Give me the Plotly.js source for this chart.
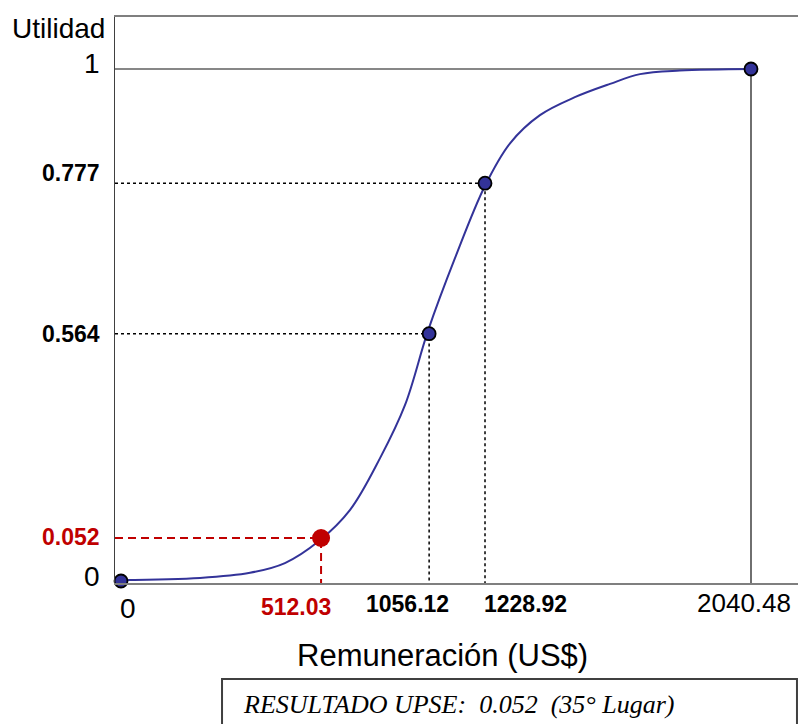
<!DOCTYPE html>
<html><head><meta charset="utf-8">
<script src="https://cdn.plot.ly/plotly-3.0.1.min.js"></script>
<style>html,body{margin:0;padding:0;background:#fff}#chart{width:798px;height:724px}</style>
</head><body><div id="chart"></div>
<script>
// Values shown on the chart
const remuneracion = [0, 512.03, 1056.12, 1228.92, 2040.48];
const utilidad = [0, 0.052, 0.564, 0.777, 1];
const remuneracionLabels = ['0', '512.03', '1056.12', '1228.92', '2040.48'];
const utilidadLabels = ['0', '0.052', '0.564', '0.777', '1'];
// Where each point sits on the (schematic, not-to-scale) drawn axes
const posX = [0, 648, 998, 1179, 2040.48];
const posY = [0, 0.084, 0.483, 0.777, 1];
// Utility curve in the same drawn-axis units
const curvaX = [0, 256, 418, 531, 641, 742, 839, 920, 994, 1082, 1179, 1260, 1357, 1470, 1584, 1681, 1810, 2047];
const curvaY = [0.002, 0.006, 0.016, 0.035, 0.078, 0.139, 0.240, 0.344, 0.488, 0.631, 0.772, 0.855, 0.910, 0.945, 0.971, 0.990, 0.997, 1.0];
const upse = 1; // index of the highlighted result
const resultado = 'RESULTADO UPSE:  0.052  (35° Lugar)';

const xRange = [-19.4, 2192.7];
const yRange = [-0.0039, 1.1016];
const RED = '#C00000', BLUE = '#333399';
const SANS = 'Liberation Sans, Arial, sans-serif';

const traces = [];
// guide lines
for (let i = 1; i < posX.length; i++) {
  let line;
  if (i === upse) line = {color: RED, width: 2, dash: '8px,5px'};
  else if (i === posX.length - 1) line = {color: '#111', width: 1.2};
  else line = {color: '#000', width: 1.5, dash: 'dot'};
  traces.push({x: [xRange[0], posX[i], posX[i]], y: [posY[i], posY[i], yRange[0]],
    mode: 'lines', line: line, hoverinfo: 'skip'});
}
// curve
traces.push({x: curvaX, y: curvaY, mode: 'lines',
  line: {color: BLUE, width: 2, shape: 'spline', smoothing: 1}});
// blue points
const bx = [], by = [];
posX.forEach((v, i) => { if (i !== upse) { bx.push(v); by.push(posY[i]); } });
traces.push({x: bx, y: by, mode: 'markers', cliponaxis: false,
  marker: {color: BLUE, size: 13, line: {color: '#000', width: 1.8}}});
// highlighted point
traces.push({x: [posX[upse]], y: [posY[upse]], mode: 'markers', cliponaxis: false,
  marker: {color: RED, size: 18, line: {width: 0}}});

function styleFor(i, regSize) {
  if (i === 0 || i === posX.length - 1) return {family: SANS, size: regSize, color: '#000'};
  return {family: SANS, size: 23, color: i === upse ? RED : '#000', weight: 'bold'};
}
const annotations = [];
const yShift = [5, 1, 0, 10, 6];
utilidadLabels.forEach((t, i) => annotations.push({
  text: t, xref: 'paper', x: 0, xanchor: 'right', xshift: -13,
  yref: 'y', y: posY[i], yanchor: 'middle', yshift: yShift[i],
  showarrow: false, font: styleFor(i, 28)}));
const xShift = [7, -25, -22, 40, -7];
const xyShift = [-25, -24, -21, -21, -20];
remuneracionLabels.forEach((t, i) => annotations.push({
  text: t, xref: 'x', x: posX[i], xanchor: 'center', xshift: xShift[i],
  yref: 'paper', y: 0, yanchor: 'middle', yshift: xyShift[i],
  showarrow: false, font: styleFor(i, i === 0 ? 28 : 26)}));
annotations.push({text: 'Utilidad', xref: 'paper', x: 0, xanchor: 'right', xshift: -8,
  yref: 'paper', y: 1, yanchor: 'middle', yshift: -11, showarrow: false,
  font: {family: SANS, size: 28, color: '#000'}});
annotations.push({text: 'Remuneración (US$)', xref: 'paper', x: 0.4802, xanchor: 'center',
  yref: 'paper', y: 0, yanchor: 'middle', yshift: -72, showarrow: false,
  font: {family: SANS, size: 31, color: '#000'}});
annotations.push({text: resultado, xref: 'paper', x: 0.1874, xanchor: 'left', xshift: -2,
  yref: 'paper', y: -0.2155, yanchor: 'middle', showarrow: false,
  font: {family: 'Liberation Serif, Times New Roman, serif', size: 26, style: 'italic', color: '#000'}});

const layout = {
  width: 798, height: 724,
  margin: {l: 115, r: 0, t: 17, b: 141, pad: 0},
  paper_bgcolor: '#fff', plot_bgcolor: '#fff', showlegend: false,
  xaxis: {range: xRange, showgrid: false, zeroline: false, showticklabels: false, ticks: '',
    showline: true, linecolor: '#7f7f7f', linewidth: 2, mirror: true},
  yaxis: {range: yRange, showgrid: false, zeroline: false, showticklabels: false, ticks: '',
    showline: true, linecolor: '#404040', linewidth: 1},
  annotations: annotations,
  shapes: [{type: 'rect', xref: 'paper', yref: 'paper', x0: 0.1567, x1: 0.9985, y0: -0.2597, y1: -0.1696,
    line: {color: '#404040', width: 2}, fillcolor: 'rgba(0,0,0,0)'}]
};
Plotly.newPlot('chart', traces, layout, {staticPlot: true, displayModeBar: false});
</script></body></html>
